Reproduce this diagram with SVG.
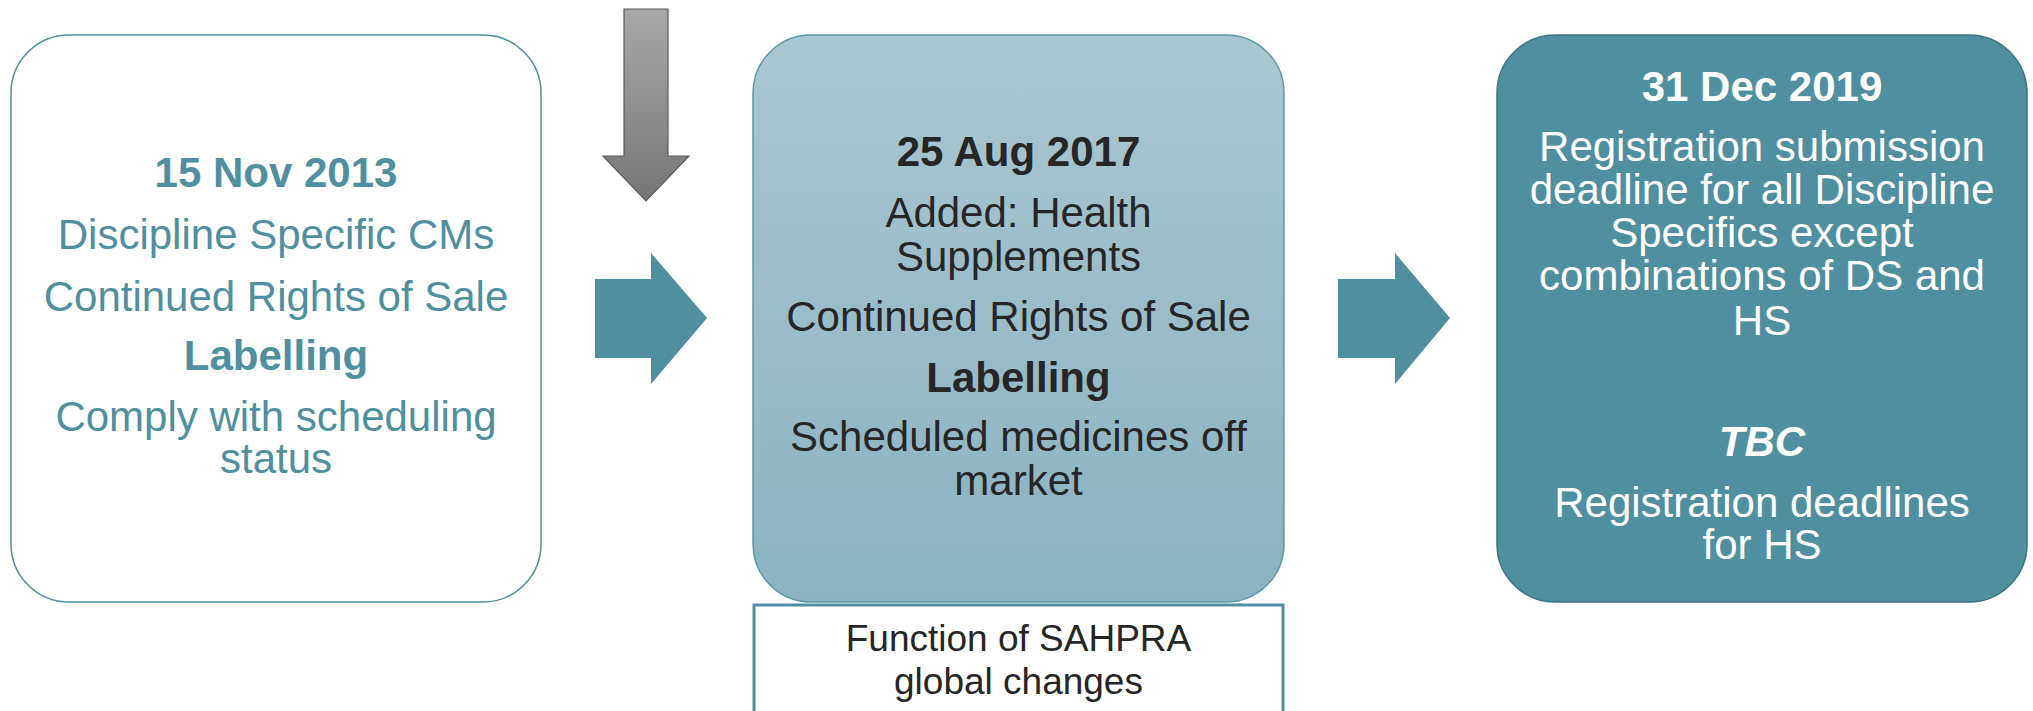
<svg xmlns="http://www.w3.org/2000/svg" width="2033" height="711" viewBox="0 0 2033 711">
  <defs>
    <linearGradient id="grayArrow" x1="0" y1="0" x2="0" y2="1">
      <stop offset="0" stop-color="#a8a8a8"/>
      <stop offset="1" stop-color="#767676"/>
    </linearGradient>
    <linearGradient id="midFill" x1="0" y1="0" x2="0" y2="1">
      <stop offset="0" stop-color="#aac7d0"/>
      <stop offset="1" stop-color="#8ab2c0"/>
    </linearGradient>
  </defs>
  <style>
    text { font-family: "Liberation Sans", Arial, sans-serif; font-size: 42px; text-anchor: middle; }
    .b { font-weight: bold; }
    .bi { font-weight: bold; font-style: italic; }
    .t1 { fill: #4f8f9f; }
    .t2 { fill: #262626; }
    .t3 { fill: #ffffff; }
    .flow { fill: #4f8f9f; }
  </style>

  <!-- flow arrows -->
  <g id="connectors">
    <path d="M624,9 H668 V156 H689 L646,201 L603,156 H624 Z" fill="url(#grayArrow)" stroke="#5a5a5a" stroke-width="1.2"/>
    <path class="flow" d="M595,279 H651 V253 L707,318 L651,384 V358 H595 Z"/>
    <path class="flow" d="M1338,279 H1395 V253 L1450,318 L1395,384 V358 H1338 Z"/>
  </g>

  <!-- 2013 milestone -->
  <g id="node-2013">
    <rect x="11" y="35" width="530" height="567" rx="58" ry="58" fill="#ffffff" stroke="#4f8f9f" stroke-width="1.5"/>
    <text class="t1 b" x="276" y="187">15 Nov 2013</text>
    <text class="t1" x="276" y="248.5">Discipline Specific CMs</text>
    <text class="t1" x="276" y="310.5">Continued Rights of Sale</text>
    <text class="t1 b" x="276" y="370">Labelling</text>
    <text class="t1" x="276" y="431">Comply with scheduling</text>
    <text class="t1" x="276" y="473">status</text>
  </g>

  <!-- 2017 milestone -->
  <g id="node-2017">
    <rect x="753" y="35" width="531" height="567" rx="58" ry="58" fill="url(#midFill)" stroke="#5b98a7" stroke-width="1.5"/>
    <text class="t2 b" x="1018.5" y="165.5">25 Aug 2017</text>
    <text class="t2" x="1018.5" y="227">Added: Health</text>
    <text class="t2" x="1018.5" y="271">Supplements</text>
    <text class="t2" x="1018.5" y="331">Continued Rights of Sale</text>
    <text class="t2 b" x="1018.5" y="392">Labelling</text>
    <text class="t2" x="1018.5" y="451">Scheduled medicines off</text>
    <text class="t2" x="1018.5" y="495">market</text>
  </g>

  <!-- SAHPRA note -->
  <g id="node-sahpra">
    <rect x="754" y="605" width="529" height="120" fill="#ffffff" stroke="#4f8f9f" stroke-width="3"/>
    <text class="t2" x="1018.5" y="651" style="font-size:37px">Function of SAHPRA</text>
    <text class="t2" x="1018.5" y="694" style="font-size:37px">global changes</text>
  </g>

  <!-- 2019 milestone -->
  <g id="node-2019">
    <rect x="1497" y="35" width="530" height="567" rx="58" ry="58" fill="#4f8f9f" stroke="#3d7482" stroke-width="1.5"/>
    <text class="t3 b" x="1762" y="101">31 Dec 2019</text>
    <text class="t3" x="1762" y="161">Registration submission</text>
    <text class="t3" x="1762" y="204">deadline for all Discipline</text>
    <text class="t3" x="1762" y="247">Specifics except</text>
    <text class="t3" x="1762" y="290">combinations of DS and</text>
    <text class="t3" x="1762" y="334.5">HS</text>
    <text class="t3 bi" x="1762" y="456">TBC</text>
    <text class="t3" x="1762" y="517">Registration deadlines</text>
    <text class="t3" x="1762" y="559">for HS</text>
  </g>
</svg>
